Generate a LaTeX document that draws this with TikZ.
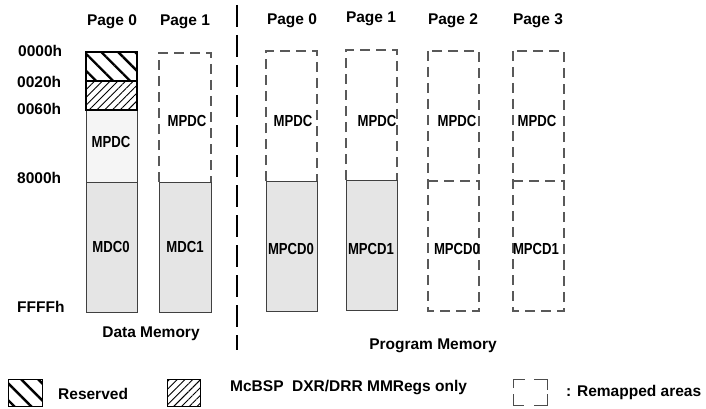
\documentclass[tikz,border=0pt]{standalone}
\usepackage{fontspec}
\setmainfont{Liberation Sans}
\usetikzlibrary{patterns.meta}
\newcommand{\narrowlbl}[1]{\scalebox{0.82}[1]{#1}}

\begin{document}
\begin{tikzpicture}[x=1pt, y=-1pt,
    lbl/.style = {font=\fontsize{15.5}{18}\selectfont\bfseries, inner sep=0pt},
    addr/.style = {lbl, anchor=west},
    cell/.style = {font=\fontsize{16}{18}\selectfont\bfseries, inner sep=0pt},
    remap/.style = {draw=black!65, line width=1.1pt, dash pattern=on 10pt off 6pt},
    used/.style = {draw=black!75, line width=0.9pt, fill=black!10},
    light/.style = {draw=black!75, line width=0.9pt, fill=black!4},
    reserved/.style = {pattern={Lines[angle=-45, distance=12pt, line width=2.4pt]}},
    mmregs/.style = {pattern={Lines[angle=45, distance=5.5pt, line width=0.9pt]}}]
    \useasboundingbox (0,0) rectangle (706,409);

    % data memory, page 0
    \path[light] (86,110) rectangle (137,182);
    \path[used] (86,182) rectangle (137,312);
    \path[reserved] (86,52) rectangle (137,81);
    \path[mmregs] (86,81) rectangle (137,110);
    \draw[line width=2pt] (86,52) rectangle (137,110) (86,81) -- (137,81);

    % data memory, page 1
    \draw[remap] (159,182) -- (159,53) -- (211,53) -- (211,182);
    \path[used] (159,182) rectangle (211,312);

    \draw[line width=2.5pt, dash pattern=on 22pt off 8pt] (237,5) -- (237,350);

    % program memory
    \draw[remap] (266,181) -- (266,51) -- (317,51) -- (317,181);
    \path[used] (266,181) rectangle (317,311);
    \draw[remap] (346,180) -- (346,50) -- (397,50) -- (397,180);
    \path[used] (346,180) rectangle (397,310);
    \draw[remap] (428,51) rectangle (479,311) (428,181) -- (479,181);
    \draw[remap] (513,51) rectangle (564,311) (513,181) -- (564,181);

    \node[lbl] (dpage0) at (112,22) {Page 0};
    \node[lbl] (dpage1) at (185,22) {Page 1};
    \node[lbl] (ppage0) at (292,21) {Page 0};
    \node[lbl] (ppage1) at (371,19) {Page 1};
    \node[lbl] (ppage2) at (453,21) {Page 2};
    \node[lbl] (ppage3) at (538,21) {Page 3};

    \node[addr] (a0000) at (18,51) {0000h};
    \node[addr] (a0020) at (17,82) {0020h};
    \node[addr] (a0060) at (17,109) {0060h};
    \node[addr] (a8000) at (17,178) {8000h};
    \node[addr] (affff) at (17,307) {FFFFh};

    \node[cell] (dmpdc0) at (111,142) {\narrowlbl{MPDC}};
    \node[cell] (dmpdc1) at (187,121) {\narrowlbl{MPDC}};
    \node[cell] (dmdc0) at (111,247) {\narrowlbl{MDC0}};
    \node[cell] (dmdc1) at (185,247) {\narrowlbl{MDC1}};
    \node[cell] (pmpdc0) at (293,121) {\narrowlbl{MPDC}};
    \node[cell] (pmpdc1) at (377,121) {\narrowlbl{MPDC}};
    \node[cell] (pmpdc2) at (457,121) {\narrowlbl{MPDC}};
    \node[cell] (pmpdc3) at (537,121) {\narrowlbl{MPDC}};
    \node[cell] (pmpcd0) at (291,249) {\narrowlbl{MPCD0}};
    \node[cell] (pmpcd1) at (371,249) {\narrowlbl{MPCD1}};
    \node[cell] (pmpcd2) at (457,249) {\narrowlbl{MPCD0}};
    \node[cell] (pmpcd3) at (536,249) {\narrowlbl{MPCD1}};

    \node[lbl] (datamem) at (151,334) {Data Memory};
    \node[lbl] (progmem) at (433,346) {Program Memory};

    % legend
    \path[reserved] (8,379) rectangle (42,406);
    \draw[line width=0.7pt] (8,379) rectangle (42,406);
    \node[lbl, anchor=west] (kreserved) at (58,394) {Reserved};
    \path[mmregs] (167,379) rectangle (200,406);
    \draw[line width=0.7pt] (167,379) rectangle (200,406);
    \node[lbl, anchor=west] (kmmregs) at (230,388) {McBSP\ \ DXR/DRR MMRegs only};
    \draw[black!70, line width=0.9pt]
        (513,388) -- (513,379) -- (525,379)
        (534,379) -- (547,379) -- (547,390)
        (513,394) -- (513,405) -- (524,405)
        (534,405) -- (547,405) -- (547,394);
    \node[lbl, anchor=west] (kremap) at (566,392) {: Remapped areas};
\end{tikzpicture}
\end{document}
